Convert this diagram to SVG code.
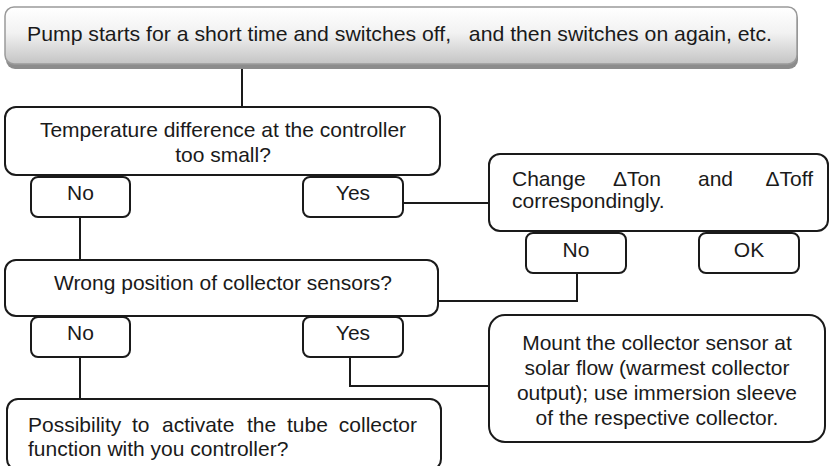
<svg xmlns="http://www.w3.org/2000/svg" width="831" height="466" viewBox="0 0 831 466">
<defs>
<linearGradient id="g" x1="0" y1="0" x2="0" y2="1">
<stop offset="0" stop-color="#ffffff"/>
<stop offset="0.45" stop-color="#f2f2f2"/>
<stop offset="1" stop-color="#c4c4c4"/>
</linearGradient>
</defs>
<style>
.box{fill:#fff;stroke:#1a1a1a;stroke-width:2}
.t{font-family:"Liberation Sans",Arial,sans-serif;font-size:21px;fill:#1a1a1a}
.c{text-anchor:middle}
.ln{fill:none;stroke:#1a1a1a;stroke-width:2}
</style>
<rect width="831" height="466" fill="#fff"/>
<g id="connectors">
<path class="ln" d="M242 63V107"/>
<path class="ln" d="M80 217V261"/>
<path class="ln" d="M403 203H489"/>
<path class="ln" d="M577 273V301H438"/>
<path class="ln" d="M80 357V400"/>
<path class="ln" d="M350 357V386H489"/>
</g>
<g id="start">
<rect x="6" y="11" width="792" height="58" rx="9" fill="#8c8c8c"/>
<rect x="5" y="7" width="792" height="57" rx="9" fill="url(#g)" stroke="#9a9a9a" stroke-width="1.5"/>
<text class="t" x="27" y="41" font-size="22" textLength="745" lengthAdjust="spacingAndGlyphs" xml:space="preserve" style="white-space:pre">Pump starts for a short time and switches off,   and then switches on again, etc.</text>
</g>
<g id="q1">
<rect class="box" x="5" y="107" width="435" height="68" rx="11"/>
<text class="t c" x="223" y="137">Temperature difference at the controller</text>
<text class="t c" x="223" y="162">too small?</text>
</g>
<g id="q1-no">
<rect class="box" x="31" y="177" width="99" height="40" rx="7"/>
<text class="t c" x="80.5" y="200">No</text>
</g>
<g id="q1-yes">
<rect class="box" x="303" y="177" width="100" height="40" rx="7"/>
<text class="t c" x="353" y="200">Yes</text>
</g>
<g id="change">
<rect class="box" x="489" y="154" width="339" height="77" rx="11"/>
<text class="t" x="512" y="186">Change</text>
<text class="t" x="613" y="186">ΔTon</text>
<text class="t" x="698" y="186">and</text>
<text class="t" x="813" y="186" text-anchor="end">ΔToff</text>
<text class="t" x="512" y="208">correspondingly.</text>
</g>
<g id="change-no">
<rect class="box" x="526" y="233" width="100" height="40" rx="7"/>
<text class="t c" x="576" y="257">No</text>
</g>
<g id="change-ok">
<rect class="box" x="699" y="233" width="100" height="40" rx="7"/>
<text class="t c" x="749" y="257">OK</text>
</g>
<g id="q2">
<rect class="box" x="5" y="260" width="433" height="56" rx="11"/>
<text class="t c" x="223" y="290">Wrong position of collector sensors?</text>
</g>
<g id="q2-no">
<rect class="box" x="31" y="317" width="99" height="40" rx="7"/>
<text class="t c" x="80.5" y="340">No</text>
</g>
<g id="q2-yes">
<rect class="box" x="303" y="317" width="100" height="40" rx="7"/>
<text class="t c" x="353" y="340">Yes</text>
</g>
<g id="mount">
<rect class="box" x="489" y="315" width="336" height="127" rx="16"/>
<text class="t c" x="657" y="350">Mount the collector sensor at</text>
<text class="t c" x="657" y="375">solar flow (warmest collector</text>
<text class="t c" x="657" y="400">output); use immersion sleeve</text>
<text class="t c" x="657" y="425">of the respective collector.</text>
</g>
<g id="q3">
<rect class="box" x="7" y="399" width="434" height="71" rx="11"/>
<text class="t" x="28" y="432">Possibility</text>
<text class="t" x="132" y="432">to</text>
<text class="t" x="162" y="432">activate</text>
<text class="t" x="247" y="432">the</text>
<text class="t" x="287" y="432">tube</text>
<text class="t" x="417" y="432" text-anchor="end">collector</text>
<text class="t" x="28" y="456">function with you controller?</text>
</g>
</svg>
